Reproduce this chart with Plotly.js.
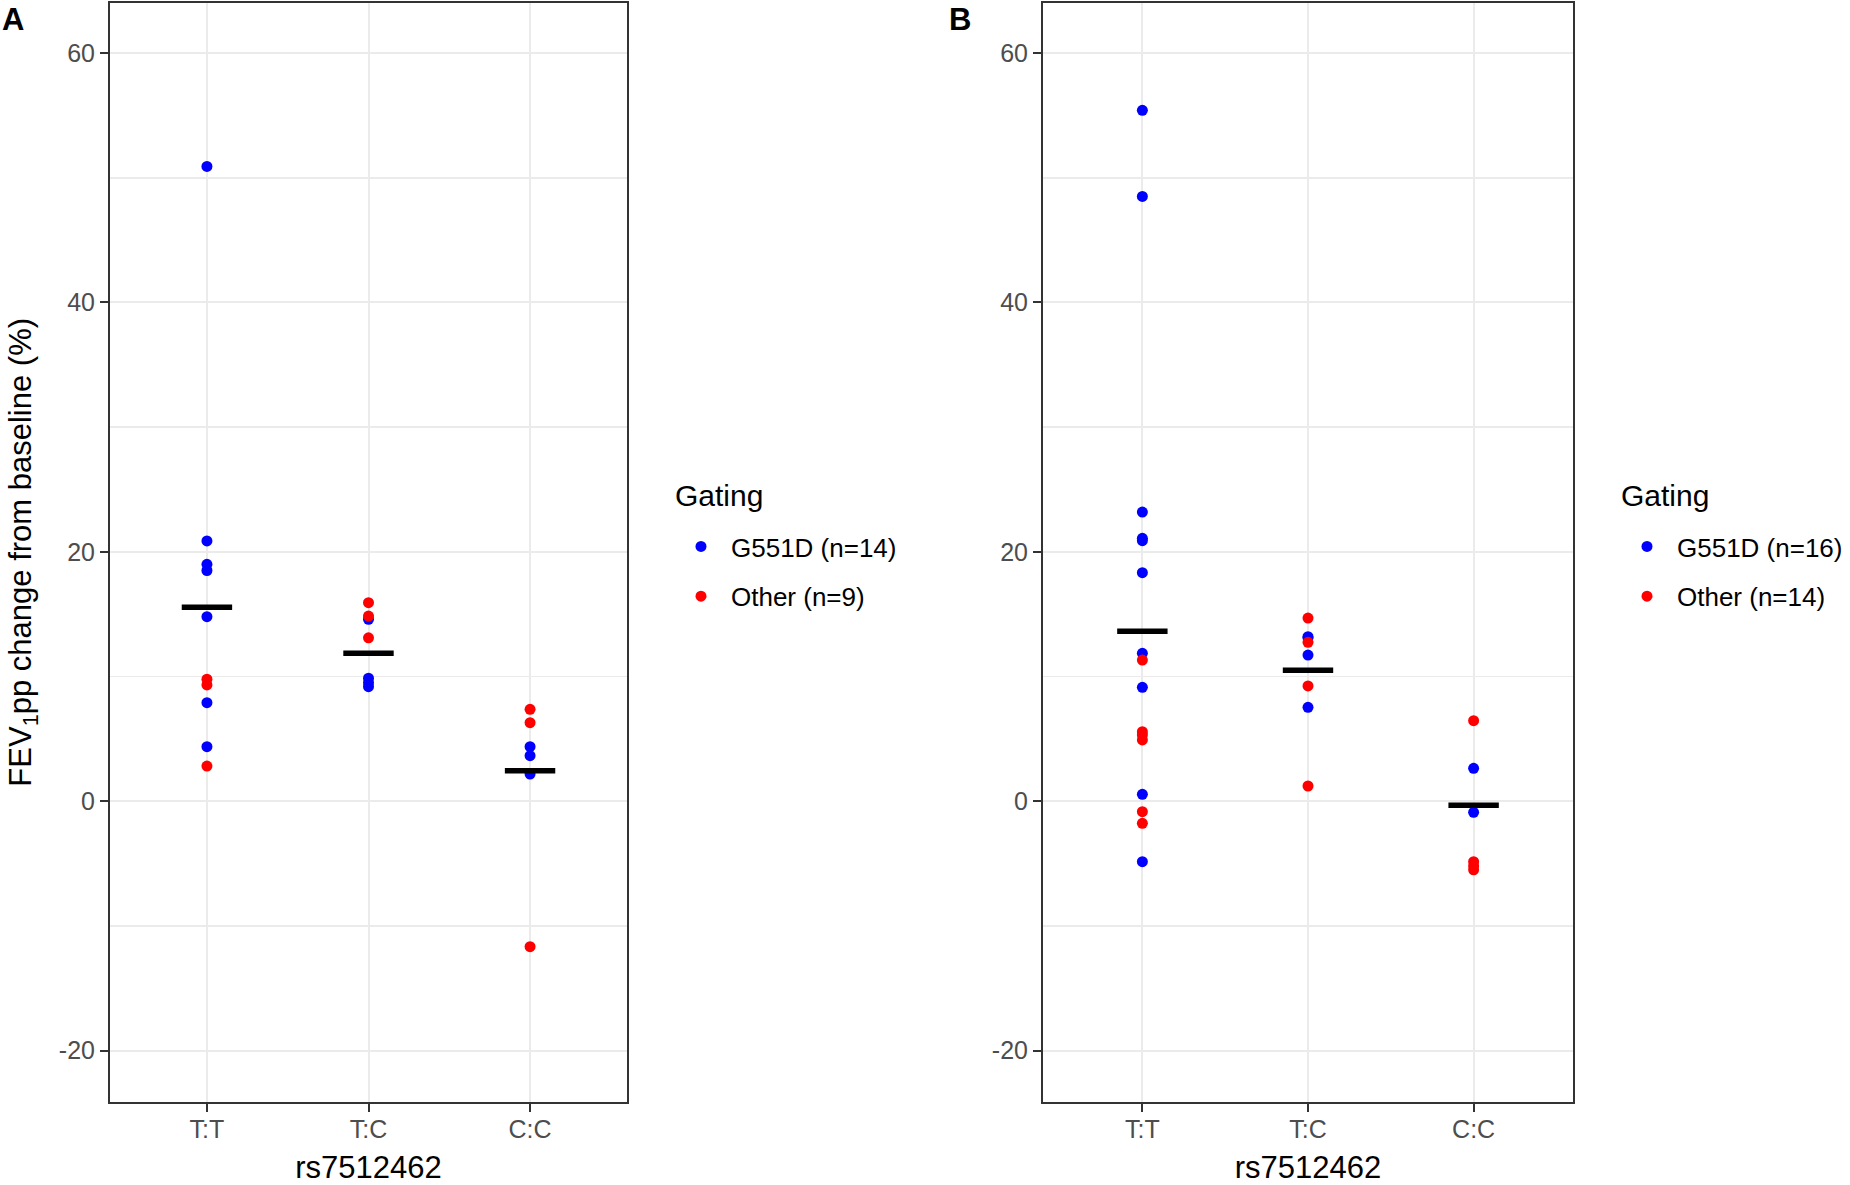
<!DOCTYPE html>
<html>
<head>
<meta charset="utf-8">
<script src="https://cdn.plot.ly/plotly-3.0.1.min.js"></script>
<style>html,body{margin:0;padding:0;background:#fff;}#chart{width:1850px;height:1185px;}</style>
</head>
<body>
<div id="chart"></div>
<script>
// ---- data ----
const categories = ['T:T', 'T:C', 'C:C'];
const yTickVals = [-20, 0, 20, 40, 60];
const yTickText = ['-20', '0', '20', '40', '60'];

// Panel A
const A_g551d_x = ['T:T','T:T','T:T','T:T','T:T','T:T','T:T','T:C','T:C','T:C','T:C','C:C','C:C','C:C'];
const A_g551d_y = [50.9, 20.87, 19.0, 18.5, 14.8, 7.9, 4.37, 14.59, 9.86, 9.5, 9.18, 4.37, 3.65, 2.18];
const A_other_x = ['T:T','T:T','T:T','T:C','T:C','T:C','C:C','C:C','C:C'];
const A_other_y = [9.78, 9.32, 2.82, 15.92, 14.85, 13.1, 7.37, 6.3, -11.67];
const A_means = [15.55, 11.86, 2.45];

// Panel B
const B_g551d_x = ['T:T','T:T','T:T','T:T','T:T','T:T','T:T','T:T','T:T','T:T','T:C','T:C','T:C','T:C','C:C','C:C'];
const B_g551d_y = [55.4, 48.5, 23.19, 21.08, 20.89, 18.33, 11.86, 9.13, 0.55, -4.85, 13.19, 13.1, 11.72, 7.53, 2.64, -0.89];
const B_other_x = ['T:T','T:T','T:T','T:T','T:T','T:T','T:C','T:C','T:C','T:C','C:C','C:C','C:C','C:C'];
const B_other_y = [11.32, 5.57, 5.31, 4.91, -0.84, -1.77, 14.69, 12.74, 9.24, 1.22, 6.46, -4.85, -5.2, -5.5];
const B_means = [13.62, 10.5, -0.33];

const legendTitle = 'Gating';
const A_names = ['G551D (n=14)', 'Other (n=9)'];
const B_names = ['G551D (n=16)', 'Other (n=14)'];
const xTitle = 'rs7512462';
const yTitle = 'FEV<sub>1</sub>pp change from baseline (%)';

// ---- styling ----
const FONT = 'Liberation Sans, Arial, sans-serif';
const BLUE = '#0000FF', RED = '#FF0000';
const W = 1850, H = 1185;
const px = v => v / W;
const py = v => (H - v) / H;

function pts(x, y, color, name, xa, ya, leg, grp) {
  return {type: 'scatter', mode: 'markers', x: x, y: y, name: name,
    xaxis: xa, yaxis: ya, legend: leg, legendgroup: grp,
    marker: {color: color, size: 11, line: {width: 0}}, hoverinfo: 'x+y'};
}
function meanBar(y, xa, ya) {
  return {type: 'scatter', mode: 'markers', x: categories, y: y, xaxis: xa, yaxis: ya,
    showlegend: false, hoverinfo: 'y',
    marker: {symbol: 'line-ew', size: 36, color: '#000', line: {width: 5.5, color: '#000'}}};
}

const data = [
  pts(A_g551d_x, A_g551d_y, BLUE, A_names[0], 'x', 'y', 'legend', 'a1'),
  pts(A_other_x, A_other_y, RED, A_names[1], 'x', 'y', 'legend', 'a2'),
  meanBar(A_means, 'x', 'y'),
  pts(B_g551d_x, B_g551d_y, BLUE, B_names[0], 'x2', 'y2', 'legend2', 'b1'),
  pts(B_other_x, B_other_y, RED, B_names[1], 'x2', 'y2', 'legend2', 'b2'),
  meanBar(B_means, 'x2', 'y2')
];

const yRange = [-24.09, 64.01];
const yDomain = [py(1101.6), py(3)];

function xaxis(domain, anchor) {
  return {domain: domain, anchor: anchor, type: 'category',
    categoryorder: 'array', categoryarray: categories, range: [-0.6, 2.6],
    showgrid: true, gridcolor: '#ebebeb', gridwidth: 2, zeroline: false,
    showline: true, mirror: true, linecolor: '#333333', linewidth: 2,
    ticks: 'outside', ticklen: 8, tickwidth: 2, tickcolor: '#333333',
    ticklabelstandoff: -4,
    tickfont: {family: FONT, size: 25, color: '#4d4d4d'},
    title: {text: xTitle, font: {family: FONT, size: 31, color: '#000'}, standoff: 15},
    automargin: false, fixedrange: true};
}
function yaxis(anchor, withTitle) {
  const ax = {domain: yDomain, anchor: anchor, range: yRange,
    tickmode: 'array', tickvals: yTickVals, ticktext: yTickText,
    showgrid: true, gridcolor: '#ebebeb', gridwidth: 2, zeroline: false,
    minor: {tickmode: 'linear', tick0: 0, dtick: 10, showgrid: true, gridcolor: '#ebebeb', gridwidth: 1.6, ticks: ''},
    showline: true, mirror: true, linecolor: '#333333', linewidth: 2,
    ticks: 'outside', ticklen: 8, tickwidth: 2, tickcolor: '#333333',
    tickfont: {family: FONT, size: 25, color: '#4d4d4d'},
    automargin: false, fixedrange: true};
  if (withTitle) ax.title = {text: yTitle, font: {family: FONT, size: 31, color: '#000'}, standoff: 18};
  return ax;
}
function legend(x) {
  return {x: x, y: py(523), xanchor: 'left', yanchor: 'top', bgcolor: 'rgba(0,0,0,0)',
    borderwidth: 0, tracegroupgap: 13, itemwidth: 50,
    font: {family: FONT, size: 26, color: '#000'}};
}
function legendHead(x) {
  return {text: legendTitle, x: px(x), y: py(496), xref: 'paper', yref: 'paper',
    xanchor: 'left', yanchor: 'middle', showarrow: false,
    font: {family: FONT, size: 30, color: '#000'}};
}

const layout = {
  width: W, height: H,
  margin: {l: 0, r: 0, t: 0, b: 0},
  paper_bgcolor: '#fff', plot_bgcolor: '#fff',
  font: {family: FONT},
  xaxis: xaxis([px(110), px(627)], 'y'),
  yaxis: yaxis('x', true),
  xaxis2: xaxis([px(1043), px(1573)], 'y2'),
  yaxis2: yaxis('x2', false),
  legend: legend(px(671)),
  legend2: legend(px(1617)),
  showlegend: true,
  annotations: [
    legendHead(673),
    legendHead(1619),
    {text: '<b>A</b>', x: 0, y: py(0), xref: 'paper', yref: 'paper', xanchor: 'left', yanchor: 'top',
     showarrow: false, font: {family: FONT, size: 31, color: '#000'}},
    {text: '<b>B</b>', x: px(947), y: py(0), xref: 'paper', yref: 'paper', xanchor: 'left', yanchor: 'top',
     showarrow: false, font: {family: FONT, size: 31, color: '#000'}}
  ]
};

Plotly.newPlot('chart', data, layout, {displayModeBar: false, staticPlot: true});
</script>
</body>
</html>
